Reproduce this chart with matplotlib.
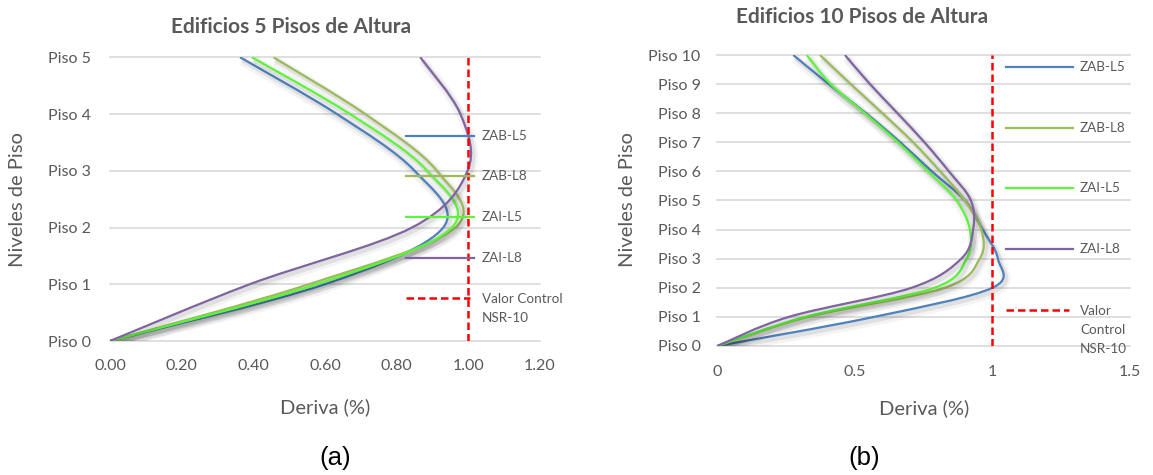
import numpy as np
import matplotlib
matplotlib.use('Agg')
import matplotlib.pyplot as plt
from matplotlib.path import Path
from matplotlib.patches import PathPatch
from matplotlib.lines import Line2D
import matplotlib.patheffects as pe

plt.rcParams['font.family'] = ['Lato', 'DejaVu Sans']

# data: drift (%) at each floor
series_names = ['ZAB-L5', 'ZAB-L8', 'ZAI-L5', 'ZAI-L8']
series_colors = ['#4f81bd', '#9bbb59', '#5cf53a', '#8064a2']

floors_5 = [0, 1, 2, 3, 4, 5]
zab_l5_5 = [0, 0.60, 0.93, 0.85, 0.633, 0.363]
zab_l8_5 = [0, 0.555, 0.964, 0.912, 0.712, 0.456]
zai_l5_5 = [0, 0.577, 0.954, 0.885, 0.670, 0.396]
zai_l8_5 = [0, 0.39, 0.843, 0.998, 0.978, 0.866]

floors_10 = [0, 1, 2, 3, 4, 5, 6, 7, 8, 9, 10]
zab_l5_10 = [0, 0.57, 1.00, 1.02, 0.965, 0.90, 0.78, 0.665, 0.54, 0.405, 0.276]
zab_l8_10 = [0, 0.33, 0.827, 0.954, 0.96, 0.90, 0.81, 0.712, 0.60, 0.485, 0.373]
zai_l5_10 = [0, 0.32, 0.79, 0.906, 0.918, 0.87, 0.766, 0.657, 0.536, 0.412, 0.325]
zai_l8_10 = [0, 0.26, 0.706, 0.887, 0.930, 0.922, 0.842, 0.753, 0.655, 0.555, 0.464]

control_value = 1.0
control_label_5 = 'Valor Control\nNSR-10'
control_label_10 = 'Valor\nControl\nNSR-10'

xticks_5 = [0, 0.2, 0.4, 0.6, 0.8, 1.0, 1.2]
xticklabels_5 = ['0.00', '0.20', '0.40', '0.60', '0.80', '1.00', '1.20']
xticks_10 = [0, 0.5, 1, 1.5]
xticklabels_10 = ['0', '0.5', '1', '1.5']

txt = '#595959'
grid_c = '#d9d9d9'


def smooth_path(xs, ys):
    # excel style smoothed line (catmull-rom turned into bezier segments)
    p = np.column_stack([xs, ys]).astype(float)
    ext = np.vstack([p[0], p, p[-1]])
    verts = [p[0]]
    codes = [Path.MOVETO]
    for i in range(1, len(ext) - 2):
        c1 = ext[i] + (ext[i + 1] - ext[i - 1]) / 6
        c2 = ext[i + 1] - (ext[i + 2] - ext[i]) / 6
        verts += [c1, c2, ext[i + 1]]
        codes += [Path.CURVE4] * 3
    return Path(verts, codes)


shadow = [pe.Stroke(offset=(1.5, -2.5), linewidth=7, foreground='k', alpha=0.045),
          pe.Stroke(offset=(1.5, -2.0), linewidth=3.5, foreground='k', alpha=0.08),
          pe.Normal()]


def draw_chart(ax, floors, data, xmax, xticks, xticklabels, xpad, ypad):
    for vals, c in zip(data, series_colors):
        ax.add_patch(PathPatch(smooth_path(vals, floors), fill=False, edgecolor=c,
                               lw=1.6, path_effects=shadow, zorder=3))
    ax.plot([control_value, control_value], [floors[0], floors[-1]], color='#ff0000',
            lw=1.8, linestyle=(0, (3, 1.6)), zorder=4)
    ax.set_xlim(0, xmax)
    ax.set_ylim(floors[0], floors[-1])
    ax.set_xticks(xticks)
    ax.set_xticklabels(xticklabels)
    ax.set_yticks(floors)
    ax.set_yticklabels(['Piso %d' % f for f in floors])
    ax.tick_params(axis='x', length=0, pad=xpad, labelsize=11.5, colors=txt)
    ax.tick_params(axis='y', length=0, pad=ypad, labelsize=11.5, colors=txt)
    ax.yaxis.grid(True, color=grid_c, lw=1.2)
    ax.set_axisbelow(True)
    for gl in ax.get_ygridlines():
        gl.set_clip_on(False)
    for s in ax.spines.values():
        s.set_visible(False)


def draw_legend(ax, x0, x1, xt, ys, labels, control_label, fs):
    for y, lab, c in zip(ys[:4], labels, series_colors):
        ax.add_line(Line2D([x0, x1], [y, y], color=c, lw=1.6, transform=ax.transAxes,
                           clip_on=False, zorder=5))
        ax.text(xt, y, lab, transform=ax.transAxes, fontsize=fs, color=txt,
                va='center', ha='left')
    ax.add_line(Line2D([x0, x1 - 0.01], [ys[4], ys[4]], color='#ff0000', lw=1.8,
                       linestyle=(0, (3, 1.6)), transform=ax.transAxes,
                       clip_on=False, zorder=5))
    ax.text(xt, ys[4] + 0.017, control_label, transform=ax.transAxes, fontsize=fs,
            color=txt, va='top', ha='left', linespacing=1.7)


fig = plt.figure(figsize=(11.53, 4.75), dpi=100)

ax1 = fig.add_axes([0.0954, 0.2821, 0.3729, 0.5973])
draw_chart(ax1, floors_5, [zab_l5_5, zab_l8_5, zai_l5_5, zai_l8_5], 1.2,
           xticks_5, xticklabels_5, 13, 14)
draw_legend(ax1, 0.688, 0.847, 0.865, [0.7226, 0.5816, 0.438, 0.2926, 0.1516],
            series_names, control_label_5, 9.75)

ax2 = fig.add_axes([0.6221, 0.2716, 0.3579, 0.6126])
draw_chart(ax2, floors_10, [zab_l5_10, zab_l8_10, zai_l5_10, zai_l8_10], 1.5,
           xticks_10, xticklabels_10, 14, 12)
draw_legend(ax2, 0.699, 0.862, 0.879, [0.960, 0.750, 0.543, 0.333, 0.124],
            series_names, control_label_10, 9.75)

fig.text(0.2524, 0.9432, 'Edificios 5 Pisos de Altura', ha='center', va='center',
         fontsize=15, fontweight='bold', color=txt)
fig.text(0.7476, 0.9642, 'Edificios 10 Pisos de Altura', ha='center', va='center',
         fontsize=15, fontweight='bold', color=txt)
fig.text(0.2819, 0.143, 'Deriva (%)', ha='center', va='center', fontsize=14.5, color=txt)
fig.text(0.8013, 0.140, 'Deriva (%)', ha='center', va='center', fontsize=14.5, color=txt)
fig.text(0.0156, 0.579, 'Niveles de Piso', ha='center', va='center', rotation=90,
         fontsize=14.5, color=txt)
fig.text(0.5438, 0.579, 'Niveles de Piso', ha='center', va='center', rotation=90,
         fontsize=14.5, color=txt)
fig.text(0.2911, 0.0358, '(a)', ha='center', va='center', fontsize=18.5,
         family='Liberation Sans', color='black')
fig.text(0.7498, 0.0358, '(b)', ha='center', va='center', fontsize=18.5,
         family='Liberation Sans', color='black')

fig.savefig('out.png', dpi=100)
